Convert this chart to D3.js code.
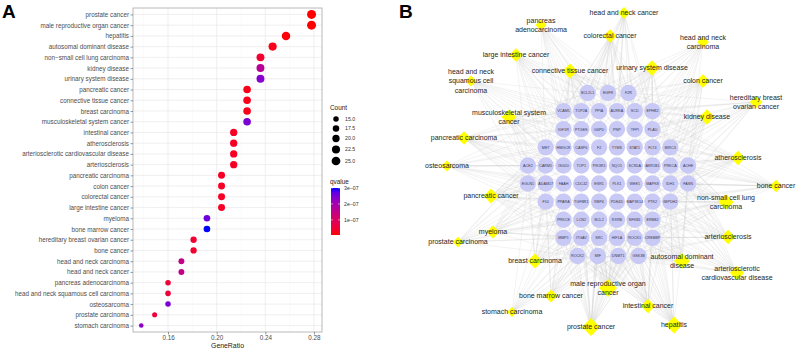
<!DOCTYPE html>
<html>
<head>
<meta charset="utf-8">
<script src="https://cdn.jsdelivr.net/npm/d3@7"></script>
<style>
  body { margin: 0; background: #fff; }
  svg { display: block; font-family: "Liberation Sans", Arial, sans-serif; }
</style>
</head>
<body>
<svg id="chart" width="797" height="348"></svg>
<script>
// ---- panel A data (top row first) ----
const categories = [
  "prostate cancer", "male reproductive organ cancer", "hepatitis", "autosomal dominant disease",
  "non\u2212small cell lung carcinoma", "kidney disease", "urinary system disease", "pancreatic cancer",
  "connective tissue cancer", "breast carcinoma", "musculoskeletal system cancer", "intestinal cancer",
  "atherosclerosis", "arteriosclerotic cardiovascular disease", "arteriosclerosis", "pancreatic carcinoma",
  "colon cancer", "colorectal cancer", "large intestine cancer", "myeloma", "bone marrow cancer",
  "hereditary breast ovarian cancer", "bone cancer", "head and neck carcinoma", "head and neck cancer",
  "pancreas adenocarcinoma", "head and neck squamous cell carcinoma", "osteosarcoma",
  "prostate carcinoma", "stomach carcinoma"
]
const geneRatio = [
  0.278, 0.278, 0.257, 0.246, 0.236, 0.236, 0.236, 0.225, 0.225, 0.225, 0.225, 0.214, 0.214, 0.214, 0.214,
  0.204, 0.204, 0.204, 0.204, 0.192, 0.192, 0.181, 0.181, 0.171, 0.171, 0.160, 0.160, 0.160, 0.149, 0.138
]
const counts = [26, 26, 24, 23, 22, 22, 22, 21, 21, 21, 21, 20, 20, 20, 20, 19, 19, 19, 19, 18, 18, 17, 17, 16, 16, 15, 15, 15, 14, 13]
const qvalue = [
  0.05e-7, 0.05e-7, 0.1e-7, 0.2e-7, 0.4e-7, 1.7e-7, 2.4e-7, 0.2e-7, 0.2e-7, 0.2e-7, 2.5e-7, 0.3e-7, 0.3e-7, 0.3e-7, 0.3e-7,
  0.3e-7, 0.3e-7, 0.3e-7, 0.3e-7, 2.6e-7, 3.0e-7, 0.4e-7, 0.4e-7, 1.5e-7, 1.5e-7, 0.5e-7, 0.5e-7, 2.5e-7, 0.5e-7, 2.3e-7
]
const ratioTicks = [0.16, 0.20, 0.24, 0.28]
const ratioMinor = [0.14, 0.18, 0.22, 0.26]
const countBreaks = [15, 17.5, 20, 22.5, 25]
const qBreaks = [1e-7, 2e-7, 3e-7]

// ---- panel B data ----
// genes, one list per row of the grid
const geneRows = [
  ["BCL2L1", "EGFR", "F2R"],
  ["VCAM1", "TOP2A", "PPIA", "AURKA", "SCD", "EPHB2"],
  ["IGF1R", "PTGES", "G6PD", "PNP", "TFPI", "PLAU"],
  ["MET", "HMGCR", "CASP6", "F2", "TYMS", "STAT1", "FLT4", "BIRC3"],
  ["ACE2", "CARM1", "ISG20", "TOP1", "PIK3R1", "NQO1", "SCN5A", "AKR1B1", "PRKCA", "ACHE"],
  ["EGLN1", "ADAM17", "FAAH", "CDC42", "ESR1", "PLK1", "WEE1", "MAPK8", "IDH1", "FASN"],
  ["F10", "PPARA", "TGFBR1", "RBP4", "PDE4D", "MAP3K14", "PTK2", "IMPDH2"],
  ["PRKCE", "LCN2", "BCL2", "RXRB", "NFKB1", "ERBB2"],
  ["MMP1", "ITGAV", "SRC", "HIF1A", "ROCK1", "CREBBP"],
  ["ROCK2", "MIF", "DNMT1", "GSK3B"]
]
// disease node labels as wrapped in the network (same order as categories)
const netLabels = [
  "prostate cancer", "male reproductive organ\ncancer", "hepatitis", "autosomal dominant\ndisease",
  "non-small cell lung\ncarcinoma", "kidney disease", "urinary system disease", "pancreatic cancer",
  "connective tissue cancer", "breast carcinoma", "musculoskeletal system\ncancer", "intestinal cancer",
  "atherosclerosis", "arteriosclerotic\ncardiovascular disease", "arteriosclerosis", "pancreatic carcinoma",
  "colon cancer", "colorectal cancer", "large intestine cancer", "myeloma", "bone marrow cancer",
  "hereditary breast\novarian cancer", "bone cancer", "head and neck\ncarcinoma", "head and neck cancer",
  "pancreas\nadenocarcinoma", "head and neck\nsquamous cell\ncarcinoma", "osteosarcoma",
  "prostate carcinoma", "stomach carcinoma"
]
// layout of the disease nodes, in network units (same order as categories)
const netX = [191, 208, 274, 282, 326, 307, 252, 91, 170, 135, 109, 248, 338, 337, 328, 64,
  303, 210, 116, 93, 151, 356, 376, 303, 224, 141, 71, 47, 58, 112]
const netY = [327, 288, 325, 261, 202, 117, 68, 196, 71, 261, 117, 306, 158, 273, 237, 138,
  81, 36, 55, 232, 296, 102, 186, 42, 13, 25, 81, 166, 242, 312]

const svg = d3.select("#chart")

// ================= Panel A : dot plot =================
const pLeft = 133, pRight = 322, pTop = 8, pBottom = 332

const x = d3.scaleLinear().domain([0.1312, 0.2866]).range([pLeft, pRight])
const y = d3.scalePoint().domain(categories).range([pTop, pBottom]).padding(0.6)
const r = d3.scaleRadial().domain([13, 26]).range([2.3, 4.5])
const color = d3.scaleLinear()
  .domain(d3.extent(qvalue))
  .range(["red", "blue"])
  .interpolate(d3.interpolateLab)

const gA = svg.append("g")

// grid
gA.selectAll(".minor").data(ratioMinor).enter().append("line")
  .attr("x1", d => x(d)).attr("x2", d => x(d))
  .attr("y1", pTop).attr("y2", pBottom)
  .attr("stroke", "#f2f2f2").attr("stroke-width", 0.4)
gA.selectAll(".major").data(ratioTicks).enter().append("line")
  .attr("x1", d => x(d)).attr("x2", d => x(d))
  .attr("y1", pTop).attr("y2", pBottom)
  .attr("stroke", "#e8e8e8").attr("stroke-width", 0.7)
gA.selectAll(".hgrid").data(categories).enter().append("line")
  .attr("x1", pLeft).attr("x2", pRight)
  .attr("y1", d => y(d)).attr("y2", d => y(d))
  .attr("stroke", "#e8e8e8").attr("stroke-width", 0.7)

// dots
gA.selectAll("circle.dot").data(categories).enter().append("circle")
  .attr("class", "dot")
  .attr("cx", (d, i) => x(geneRatio[i]))
  .attr("cy", d => y(d))
  .attr("r", (d, i) => r(counts[i]))
  .attr("fill", (d, i) => color(qvalue[i]))

// border
gA.append("rect")
  .attr("x", pLeft).attr("y", pTop)
  .attr("width", pRight - pLeft).attr("height", pBottom - pTop)
  .attr("fill", "none").attr("stroke", "#a8a8a8").attr("stroke-width", 0.8)

// axes
const xAxis = gA.append("g")
  .attr("transform", `translate(0,${pBottom})`)
  .call(d3.axisBottom(x).tickValues(ratioTicks).tickSize(2.5).tickPadding(1).tickFormat(d3.format(".2f")))
const yAxis = gA.append("g")
  .attr("transform", `translate(${pLeft},0)`)
  .call(d3.axisLeft(y).tickSize(2.5).tickPadding(1.5))
;[xAxis, yAxis].forEach(a => {
  a.select(".domain").remove()
  a.selectAll(".tick line").attr("stroke", "#555").attr("stroke-width", 0.6)
  a.selectAll(".tick text").attr("fill", "#4d4d4d").attr("font-size", "6.3px")
    .attr("font-family", "Liberation Sans, Arial, sans-serif")
})

gA.append("text")
  .attr("x", (pLeft + pRight) / 2).attr("y", 347.5)
  .attr("text-anchor", "middle").attr("font-size", "6.9px").attr("fill", "#222")
  .text("GeneRatio")

// legend : Count
const lg = gA.append("g")
lg.append("text").attr("x", 330).attr("y", 110).attr("font-size", "6.4px").attr("fill", "#222").text("Count")
const keyY = [119, 128.5, 138.5, 149.5, 161]
lg.selectAll("circle").data(countBreaks).enter().append("circle")
  .attr("cx", 336).attr("cy", (d, i) => keyY[i]).attr("r", d => r(d)).attr("fill", "black")
lg.selectAll("text.lab").data(countBreaks).enter().append("text")
  .attr("class", "lab")
  .attr("x", 345).attr("y", (d, i) => keyY[i]).attr("dy", "0.35em")
  .attr("font-size", "5.2px").attr("fill", "#333")
  .text(d => d3.format(".1f")(d))

// legend : qvalue
lg.append("text").attr("x", 330).attr("y", 184).attr("font-size", "6.4px").attr("fill", "#222").text("qvalue")
const qDom = d3.extent(qvalue)
const barY = d3.scaleLinear().domain(qDom).range([235, 188])
const grad = svg.append("defs").append("linearGradient")
  .attr("id", "qgrad").attr("x1", 0).attr("y1", 1).attr("x2", 0).attr("y2", 0)
d3.range(0, 1.0001, 0.1).forEach(t => {
  grad.append("stop").attr("offset", t)
    .attr("stop-color", color(qDom[0] + t * (qDom[1] - qDom[0])))
})
lg.append("rect").attr("x", 331).attr("y", 188).attr("width", 9).attr("height", 47).attr("fill", "url(#qgrad)")
lg.selectAll("line.qt").data(qBreaks).enter().append("line")
  .attr("x1", 331).attr("x2", 333).attr("y1", d => barY(d)).attr("y2", d => barY(d))
  .attr("stroke", "white").attr("stroke-width", 0.5)
lg.selectAll("line.qt2").data(qBreaks).enter().append("line")
  .attr("x1", 338).attr("x2", 340).attr("y1", d => barY(d)).attr("y2", d => barY(d))
  .attr("stroke", "white").attr("stroke-width", 0.5)
lg.selectAll("text.ql").data(qBreaks).enter().append("text")
  .attr("x", 344).attr("y", d => barY(d)).attr("dy", "0.35em")
  .attr("font-size", "5.2px").attr("fill", "#333")
  .text(d => d3.format(".0e")(d).replace("e-7", "e\u221207"))

// panel letter
svg.append("text").attr("x", 2).attr("y", 18).attr("font-size", "19px").attr("font-weight", "bold").text("A")

// ================= Panel B : network =================
const gB = svg.append("g")
const nx = d3.scaleLinear().domain([0, 397]).range([400, 797])
const ny = d3.scaleLinear().domain([0, 348]).range([0, 348])
const rowY = d3.scaleLinear().domain([0, geneRows.length - 1]).range([93, 256])

const genes = []
geneRows.forEach((row, ri) => {
  const step = row.length <= 4 ? 20.4 : 17.8
  row.forEach((g, ci) => {
    genes.push({ name: g, x: 608 + (ci - (row.length - 1) / 2) * step, y: rowY(ri) })
  })
})

const diseases = categories.map((c, i) => ({
  name: c, label: netLabels[i], count: counts[i], x: nx(netX[i]), y: ny(netY[i])
}))

// each disease is tied to as many genes as its count, taking the closest ones in the layout
const links = []
diseases.forEach(d => {
  genes.slice()
    .sort((a, b) => Math.hypot(a.x - d.x, a.y - d.y) - Math.hypot(b.x - d.x, b.y - d.y))
    .slice(0, d.count)
    .forEach(g => links.push({ source: d, target: g }))
})

gB.selectAll("line.link").data(links).enter().append("line")
  .attr("class", "link")
  .attr("x1", d => d.source.x).attr("y1", d => d.source.y)
  .attr("x2", d => d.target.x).attr("y2", d => d.target.y)
  .attr("stroke", "#c4c4c4").attr("stroke-width", 0.35).attr("stroke-opacity", 0.6)

// gene nodes
const gn = gB.selectAll("g.gene").data(genes).enter().append("g")
  .attr("transform", d => `translate(${d.x},${d.y})`)
gn.append("circle").attr("r", 8.2).attr("fill", "#c9c9f6")
gn.append("text")
  .attr("text-anchor", "middle").attr("dy", "0.35em")
  .attr("font-size", "3.7px").attr("fill", "#3a3a4a")
  .text(d => d.name)

// disease nodes
const half = d3.scaleLinear().domain(d3.extent(counts)).range([5, 9])
const dn = gB.selectAll("g.dis").data(diseases).enter().append("g")
  .attr("transform", d => `translate(${d.x},${d.y})`)
dn.append("path")
  .attr("d", d => { const h = half(d.count); return `M0,${-h}L${h},0L0,${h}L${-h},0Z` })
  .attr("fill", "#ffff00")
dn.each(function (d) {
  const lines = d.label.split("\n")
  const t = d3.select(this).append("text")
    .attr("text-anchor", "middle").attr("font-size", "7px").attr("fill", "#262626")
  lines.forEach((l, i) => {
    t.append("tspan").attr("x", 0)
      .attr("y", (i - (lines.length - 1) / 2) * 9.2)
      .attr("dy", "0.35em")
      .text(l)
  })
})

svg.append("text").attr("x", 399).attr("y", 18).attr("font-size", "19px").attr("font-weight", "bold").text("B")
</script>
</body>
</html>
